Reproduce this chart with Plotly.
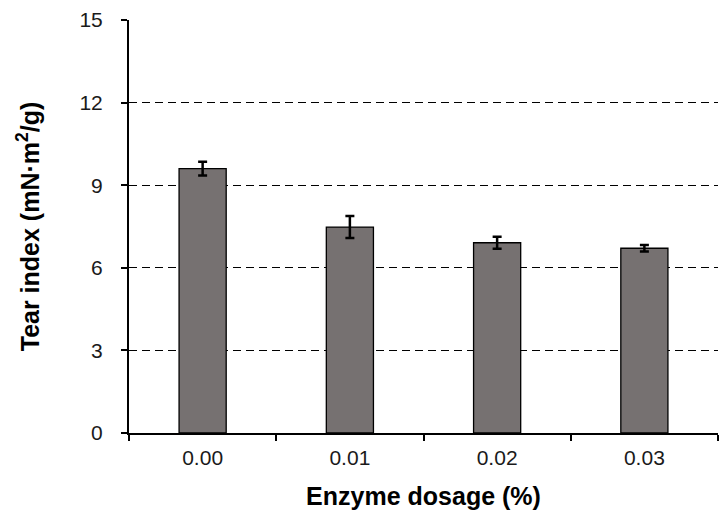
import plotly.graph_objects as go

categories = ["0.00", "0.01", "0.02", "0.03"]
tear_index = [9.6, 7.48, 6.91, 6.71]
errors = [0.25, 0.4, 0.22, 0.12]
y_ticks = [0, 3, 6, 9, 12, 15]

fig = go.Figure()
fig.add_trace(go.Bar(
    x=categories, y=tear_index,
    marker=dict(color="#767171", line=dict(color="black", width=1.3)),
    width=0.32,
    error_y=dict(type="data", array=errors, visible=True, color="black", thickness=2.5, width=4.5),
))

fig.update_layout(
    width=719, height=514,
    margin=dict(l=129, r=1, t=20, b=81),
    plot_bgcolor="white", paper_bgcolor="white",
    font=dict(family="Liberation Sans, Arial, sans-serif", size=21, color="#1a1a1a"),
    showlegend=False,
)
fig.update_xaxes(
    type="category", showline=True, linecolor="black", linewidth=2,
    ticks="outside", tickson="boundaries", ticklen=6, tickwidth=2, tickcolor="black",
    showgrid=False, ticklabelstandoff=5,
    title=dict(text="<b>Enzyme dosage (%)</b>", font=dict(size=25, color="black"), standoff=19),
)
fig.update_yaxes(
    range=[0, 15], tickvals=y_ticks, showline=True, linecolor="black", linewidth=2,
    ticks="outside", ticklen=6, tickwidth=2, tickcolor="black",
    showgrid=True, gridcolor="black", gridwidth=1, griddash="8px,5px",
    zeroline=False, ticklabelstandoff=14,
    title=dict(text="<b>Tear index (mN·m<sup>2</sup>/g)</b>", font=dict(size=25, color="black"), standoff=33),
)

fig.write_html(
    "out.html",
    config={"displayModeBar": False},
    post_script="document.body.style.margin='0';document.body.style.overflow='hidden';",
)
